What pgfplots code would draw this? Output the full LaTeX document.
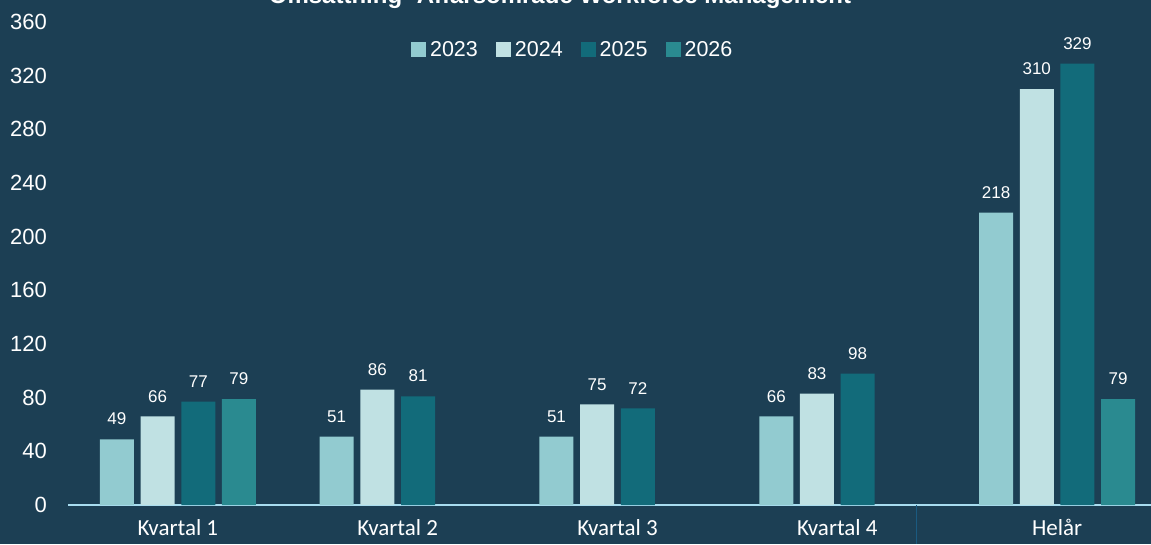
\documentclass[border=0pt]{standalone}
\usepackage{pgfplots}
\pgfplotsset{compat=1.18}
\usepackage{fontspec}
\setmainfont{Liberation Sans}
\newfontfamily\catfont{Carlito}
\definecolor{bg}{HTML}{1C3F54}
\definecolor{cA}{HTML}{92CBD0}
\definecolor{cB}{HTML}{C0E1E3}
\definecolor{cC}{HTML}{126B7A}
\definecolor{cD}{HTML}{2A8A90}
\definecolor{axl}{HTML}{A8DDF0}
\definecolor{sep}{HTML}{1A5A80}
\begin{document}
\begin{tikzpicture}
\fill[bg] (-68pt,-39pt) rectangle (1083pt,505pt);
\begin{axis}[
  at={(0,0)}, anchor=south west,
  scale only axis, width=1083pt, height=483pt,
  ymin=0, ymax=360, xmin=-0.5, xmax=4.427,
  ybar=6.7pt, bar width=34pt,
  axis x line*=bottom, axis y line*=left,
  x axis line style={axl, line width=1.5pt, -},
  y axis line style={draw=none},
  major tick length=0pt,
  ytick={0,40,...,360},
  xtick={0,1,2,3,4},
  xticklabels={Kvartal 1,Kvartal 2,Kvartal 3,Kvartal 4,Helår},
  xticklabel style={font=\catfont\fontsize{23}{25}\selectfont, text=white, anchor=north, inner sep=0pt, yshift=-14pt},
  yticklabel style={font=\fontsize{22}{24}\selectfont, text=white, anchor=east, inner sep=0pt, xshift=-21pt},
  /pgf/number format/assume math mode=true,
  nodes near coords,
  every node near coord/.append style={font=\fontsize{17}{19}\selectfont, text=white, anchor=south, inner sep=0pt, yshift=14pt},
  legend columns=4,
  legend style={at={(0.467,0.942)}, anchor=center, draw=none, fill=none, text=white, font=\fontsize{21.5}{23}\selectfont, nodes={inner ysep=2pt, inner xsep=4pt}, /tikz/every even column/.append style={column sep=14pt}},
  legend image code/.code={\fill[#1] (0pt,-7pt) rectangle (15pt,8pt);},
  clip=false,
]
\addplot[fill=cA, draw=none] coordinates {(0,49) (1,51) (2,51) (3,66) (4,218)};
\addplot[fill=cB, draw=none] coordinates {(0,66) (1,86) (2,75) (3,83) (4,310)};
\addplot[fill=cC, draw=none] coordinates {(0,77) (1,81) (2,72) (3,98) (4,329)};
\addplot[fill=cD, draw=none] coordinates {(0,79) (4,79)};
\legend{2023,2024,2025,2026}
\draw[sep, line width=1pt] (axis cs:3.36,0) -- ([yshift=-39pt]axis cs:3.36,0);
\end{axis}
\node[anchor=base, text=white, font=\bfseries\fontsize{24}{26}\selectfont] at (492pt,501pt) {Omsättning- Affärsområde Workforce Management};
\pgfresetboundingbox
\useasboundingbox (-68pt,-39pt) rectangle (1083pt,505pt);
\end{tikzpicture}
\end{document}
